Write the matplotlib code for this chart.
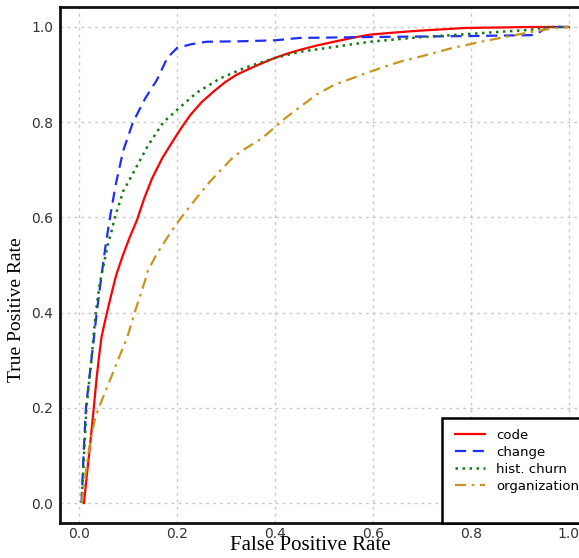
import matplotlib
matplotlib.use("Agg")
import matplotlib.pyplot as plt
from matplotlib.patches import Rectangle

code_fpr = [0.01, 0.016, 0.022, 0.029, 0.036, 0.041, 0.046, 0.052, 0.057, 0.065, 0.073, 0.077, 0.09, 0.104, 0.118, 0.133, 0.149, 0.17, 0.193, 0.21, 0.227, 0.25, 0.274, 0.298, 0.322, 0.36, 0.397, 0.425, 0.451, 0.485, 0.52, 0.557, 0.594, 0.64, 0.69, 0.74, 0.79, 0.86, 0.92, 1.0]
code_tpr = [0.0, 0.06, 0.118, 0.19, 0.265, 0.31, 0.35, 0.378, 0.40, 0.435, 0.468, 0.483, 0.522, 0.56, 0.594, 0.64, 0.682, 0.725, 0.763, 0.79, 0.815, 0.842, 0.864, 0.884, 0.90, 0.918, 0.934, 0.944, 0.952, 0.961, 0.969, 0.977, 0.984, 0.988, 0.992, 0.995, 0.998, 0.999, 1.0, 1.0]

change_fpr = [0.005, 0.009, 0.014, 0.025, 0.036, 0.046, 0.054, 0.063, 0.075, 0.09, 0.11, 0.135, 0.159, 0.18, 0.20, 0.23, 0.26, 0.33, 0.40, 0.45, 0.60, 0.80, 0.93, 0.957, 1.0]
change_tpr = [0.0, 0.10, 0.20, 0.30, 0.40, 0.48, 0.54, 0.60, 0.67, 0.74, 0.80, 0.85, 0.889, 0.935, 0.956, 0.964, 0.969, 0.970, 0.972, 0.977, 0.979, 0.981, 0.983, 1.0, 1.0]

churn_fpr = [0.005, 0.01, 0.015, 0.025, 0.034, 0.042, 0.050, 0.058, 0.067, 0.073, 0.09, 0.114, 0.14, 0.172, 0.20, 0.24, 0.288, 0.34, 0.397, 0.451, 0.52, 0.594, 0.69, 0.79, 0.92, 0.96, 1.0]
churn_tpr = [0.0, 0.10, 0.20, 0.30, 0.40, 0.46, 0.50, 0.54, 0.574, 0.60, 0.655, 0.70, 0.75, 0.80, 0.826, 0.862, 0.892, 0.915, 0.934, 0.948, 0.958, 0.969, 0.978, 0.985, 0.994, 1.0, 1.0]

org_fpr = [0.005, 0.012, 0.019, 0.026, 0.033, 0.048, 0.063, 0.08, 0.098, 0.115, 0.135, 0.138, 0.158, 0.179, 0.2, 0.22, 0.243, 0.267, 0.29, 0.315, 0.34, 0.363, 0.38, 0.397, 0.424, 0.451, 0.485, 0.52, 0.557, 0.594, 0.625, 0.655, 0.69, 0.723, 0.755, 0.79, 0.825, 0.86, 0.895, 0.927, 0.96, 1.0]
org_tpr = [0.0, 0.05, 0.105, 0.145, 0.18, 0.22, 0.258, 0.302, 0.347, 0.405, 0.468, 0.483, 0.522, 0.556, 0.588, 0.615, 0.645, 0.675, 0.70, 0.727, 0.745, 0.759, 0.772, 0.787, 0.811, 0.832, 0.858, 0.878, 0.892, 0.906, 0.917, 0.927, 0.936, 0.945, 0.954, 0.962, 0.97, 0.977, 0.984, 0.99, 0.996, 1.0]

ticks = [0.0, 0.2, 0.4, 0.6, 0.8, 1.0]
tick_labels = ["0.0", "0.2", "0.4", "0.6", "0.8", "1.0"]

fig = plt.figure(figsize=(5.79, 5.58), dpi=100)
ax = fig.add_axes([60/579, 35/558, 528/579, 516/558])

ax.plot(code_fpr, code_tpr, color="#ff0000", lw=1.6, label="code")
ax.plot(change_fpr, change_tpr, color="#1f2dff", lw=1.6, dashes=(5, 3), label="change")
ax.plot(churn_fpr, churn_tpr, color="#137a13", lw=1.8, dashes=(1, 1.8), label="hist. churn")
ax.plot(org_fpr, org_tpr, color="#c8961e", lw=1.6, dashes=(5, 2.5, 1.2, 2.5), label="organization")

ax.set_xlim(-0.039, 1.039)
ax.set_ylim(-0.042, 1.042)
ax.set_xticks(ticks)
ax.set_xticklabels(tick_labels)
ax.set_yticks(ticks)
ax.set_yticklabels(tick_labels)
ax.tick_params(length=0, labelsize=10, colors="#333333")
ax.tick_params(axis="x", pad=3)
ax.tick_params(axis="y", pad=5)
ax.grid(True, linestyle=(0, (2, 3)), color="#c8c8c8", lw=1)
ax.set_axisbelow(True)
for s in ["left", "bottom", "top"]:
    ax.spines[s].set_linewidth(2)
    ax.spines[s].set_color("#111111")
ax.spines["right"].set_visible(False)

ax.set_xlabel("False Positive Rate", family="Liberation Serif", fontsize=15)
ax.xaxis.set_label_coords((310 - 60) / 528, -0.025)
ax.xaxis.label.set_va("top")
ax.set_ylabel("True Positive Rate", family="Liberation Serif", fontsize=14)
ax.yaxis.set_label_coords(-(60 - 8) / 528, (523 - 310) / 516)
ax.yaxis.label.set_va("top")

# legend frame
x0 = (442 - 60) / 528
y0 = (523 - 418) / 516
ax.add_patch(Rectangle((x0, 0.0), 1.0 - x0, y0, transform=ax.transAxes,
                       facecolor="white", edgecolor="black", lw=1.8, clip_on=False, zorder=5))
leg = ax.legend(loc="upper left", bbox_to_anchor=((455 - 60) / 528, (523 - 429) / 516), frameon=False,
                fontsize=9.5, handlelength=2.3, handletextpad=0.8, labelspacing=0.3,
                borderaxespad=0, borderpad=0)
leg.set_zorder(6)

fig.savefig("out.png", dpi=100)
